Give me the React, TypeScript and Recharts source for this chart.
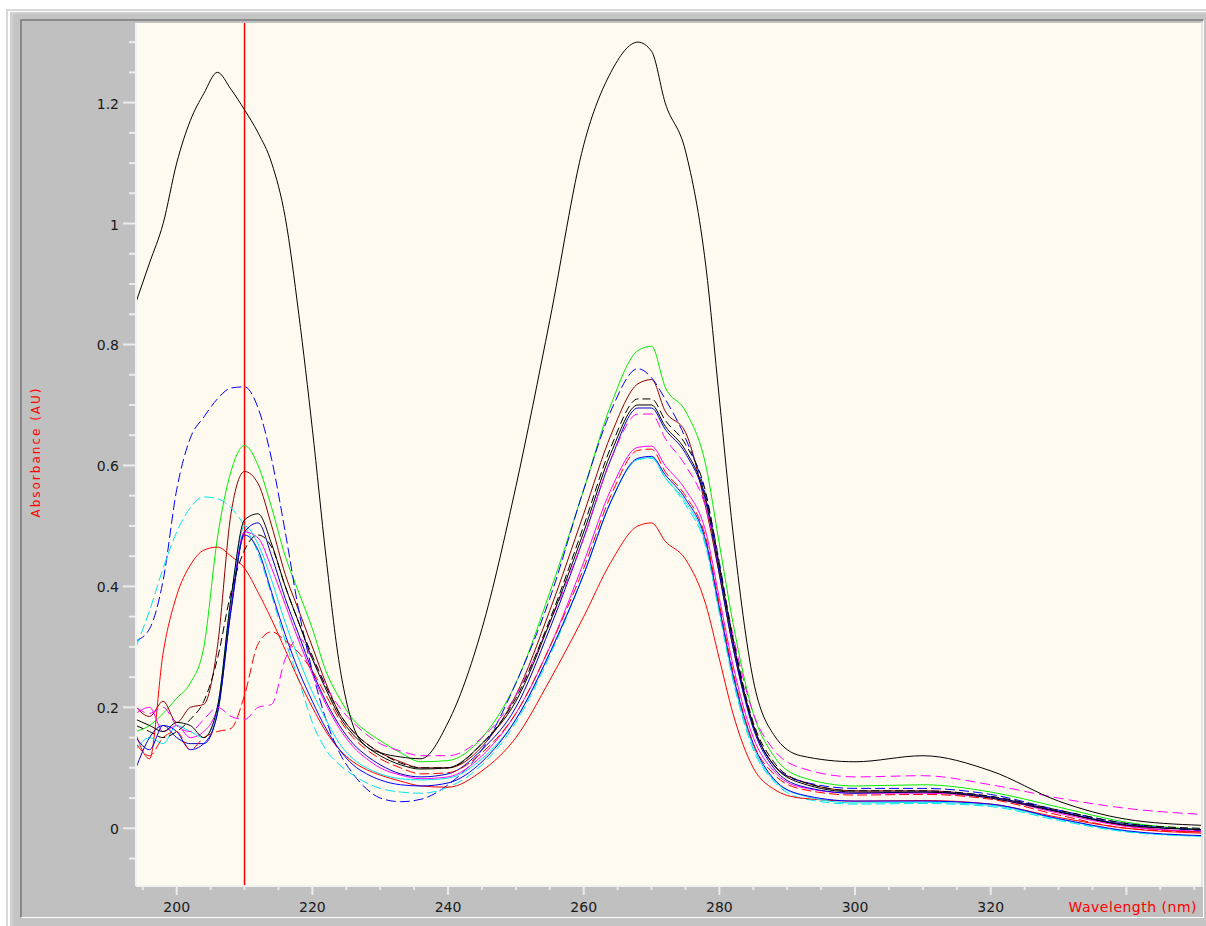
import React from 'react';
import { LineChart, Line, XAxis, YAxis, ReferenceLine } from 'recharts';

// wavelength grid (nm)
const wavelengths = [194, 196, 198, 200, 202, 204, 206, 208, 210, 212, 214, 216, 218, 220, 222, 224, 226, 228, 230, 233, 236, 240, 245, 250, 255, 260, 264, 268, 270, 272, 275, 278, 280, 282, 285, 288, 292, 300, 310, 320, 330, 340, 351];

// absorbance series (AU)
const blackHigh = [0.87, 0.935, 1.0, 1.1, 1.17, 1.215, 1.25, 1.222, 1.188, 1.15, 1.1, 1.01, 0.85, 0.66, 0.45, 0.27, 0.17, 0.135, 0.125, 0.118, 0.115, 0.175, 0.33, 0.565, 0.84, 1.13, 1.25, 1.3, 1.285, 1.2, 1.12, 0.93, 0.71, 0.49, 0.245, 0.155, 0.12, 0.11, 0.12, 0.095, 0.045, 0.015, 0.005];
const blueDashed = [0.31, 0.33, 0.41, 0.56, 0.645, 0.68, 0.71, 0.728, 0.73, 0.695, 0.61, 0.49, 0.36, 0.26, 0.18, 0.125, 0.09, 0.065, 0.05, 0.044, 0.048, 0.072, 0.13, 0.24, 0.38, 0.56, 0.69, 0.76, 0.745, 0.71, 0.645, 0.55, 0.44, 0.31, 0.17, 0.105, 0.078, 0.066, 0.066, 0.056, 0.03, 0.008, -0.004];
const cyanDashed = [0.3, 0.36, 0.43, 0.49, 0.53, 0.548, 0.545, 0.53, 0.5, 0.455, 0.385, 0.31, 0.245, 0.175, 0.13, 0.105, 0.088, 0.075, 0.066, 0.06, 0.058, 0.068, 0.105, 0.175, 0.285, 0.42, 0.54, 0.61, 0.612, 0.58, 0.535, 0.465, 0.355, 0.245, 0.13, 0.078, 0.05, 0.04, 0.041, 0.036, 0.013, -0.006, -0.013];
const redSolid = [0.155, 0.115, 0.29, 0.385, 0.435, 0.46, 0.465, 0.45, 0.43, 0.39, 0.345, 0.295, 0.245, 0.2, 0.16, 0.13, 0.11, 0.097, 0.088, 0.078, 0.07, 0.068, 0.095, 0.15, 0.245, 0.35, 0.44, 0.5, 0.505, 0.475, 0.445, 0.37, 0.28, 0.19, 0.1, 0.065, 0.05, 0.045, 0.046, 0.04, 0.018, 0.0, -0.008];
const greenSolid = [0.16, 0.17, 0.19, 0.215, 0.24, 0.3, 0.48, 0.59, 0.633, 0.6, 0.53, 0.45, 0.39, 0.33, 0.26, 0.215, 0.18, 0.16, 0.145, 0.125, 0.11, 0.112, 0.15, 0.24, 0.39, 0.56, 0.7, 0.79, 0.797, 0.73, 0.69, 0.6, 0.47, 0.34, 0.19, 0.12, 0.085, 0.07, 0.072, 0.06, 0.035, 0.01, -0.002];
const brownSolid = [0.2, 0.185, 0.21, 0.175, 0.2, 0.205, 0.3, 0.52, 0.59, 0.57, 0.5, 0.42, 0.36, 0.3, 0.24, 0.19, 0.16, 0.14, 0.125, 0.11, 0.1, 0.1, 0.135, 0.22, 0.36, 0.52, 0.65, 0.735, 0.742, 0.69, 0.655, 0.53, 0.42, 0.3, 0.17, 0.105, 0.078, 0.062, 0.062, 0.052, 0.028, 0.004, -0.006];
const blackSolid = [0.18, 0.17, 0.16, 0.175, 0.17, 0.15, 0.2, 0.38, 0.51, 0.52, 0.47, 0.4, 0.34, 0.28, 0.23, 0.185, 0.155, 0.135, 0.12, 0.105, 0.098, 0.1, 0.14, 0.21, 0.34, 0.49, 0.62, 0.7, 0.7, 0.665, 0.625, 0.545, 0.43, 0.31, 0.17, 0.105, 0.075, 0.06, 0.06, 0.05, 0.027, 0.005, -0.002];
const blackDashed = [0.17, 0.16, 0.15, 0.16, 0.18, 0.21, 0.28, 0.39, 0.46, 0.485, 0.465, 0.4, 0.34, 0.285, 0.235, 0.19, 0.16, 0.14, 0.125, 0.108, 0.1, 0.1, 0.14, 0.215, 0.345, 0.5, 0.63, 0.71, 0.71, 0.675, 0.635, 0.555, 0.435, 0.315, 0.175, 0.11, 0.078, 0.062, 0.062, 0.053, 0.03, 0.008, 0.0];
const blueSolid = [0.1, 0.15, 0.17, 0.15, 0.14, 0.14, 0.19, 0.36, 0.49, 0.505, 0.45, 0.38, 0.32, 0.26, 0.21, 0.17, 0.14, 0.12, 0.105, 0.09, 0.085, 0.09, 0.13, 0.2, 0.33, 0.48, 0.61, 0.695, 0.695, 0.66, 0.62, 0.54, 0.42, 0.3, 0.165, 0.1, 0.07, 0.058, 0.06, 0.052, 0.028, 0.006, -0.002];
const magentaSolid = [0.19, 0.2, 0.16, 0.17, 0.15, 0.16, 0.2, 0.37, 0.49, 0.48, 0.43, 0.37, 0.31, 0.255, 0.205, 0.165, 0.135, 0.115, 0.1, 0.088, 0.082, 0.085, 0.12, 0.19, 0.3, 0.44, 0.56, 0.63, 0.632, 0.6, 0.56, 0.49, 0.38, 0.27, 0.15, 0.095, 0.068, 0.058, 0.058, 0.05, 0.025, 0.003, -0.005];
const cyanSolid = [0.13, 0.15, 0.14, 0.17, 0.16, 0.15, 0.2, 0.38, 0.5, 0.47, 0.41, 0.34, 0.28, 0.225, 0.18, 0.14, 0.115, 0.1, 0.09, 0.082, 0.08, 0.083, 0.115, 0.18, 0.29, 0.42, 0.54, 0.61, 0.613, 0.58, 0.54, 0.47, 0.36, 0.25, 0.135, 0.08, 0.055, 0.042, 0.043, 0.038, 0.015, -0.005, -0.013];
const blueSolid2 = [0.15, 0.13, 0.17, 0.16, 0.13, 0.14, 0.19, 0.36, 0.485, 0.46, 0.39, 0.32, 0.26, 0.21, 0.165, 0.13, 0.105, 0.09, 0.08, 0.072, 0.07, 0.075, 0.11, 0.18, 0.29, 0.42, 0.54, 0.612, 0.615, 0.585, 0.545, 0.475, 0.365, 0.255, 0.14, 0.082, 0.056, 0.045, 0.045, 0.04, 0.016, -0.004, -0.012];
const redDashed = [0.14, 0.12, 0.15, 0.16, 0.13, 0.15, 0.16, 0.165, 0.22, 0.305, 0.325, 0.31, 0.29, 0.26, 0.22, 0.18, 0.15, 0.13, 0.115, 0.1, 0.09, 0.092, 0.125, 0.19, 0.3, 0.43, 0.55, 0.625, 0.627, 0.59, 0.55, 0.48, 0.37, 0.26, 0.14, 0.09, 0.065, 0.055, 0.056, 0.048, 0.022, 0.0, -0.006];
const magentaDashed = [0.2, 0.19, 0.2, 0.17, 0.16, 0.18, 0.2, 0.185, 0.18, 0.2, 0.205, 0.28, 0.315, 0.28, 0.235, 0.2, 0.175, 0.155, 0.14, 0.128, 0.12, 0.12, 0.15, 0.22, 0.34, 0.48, 0.61, 0.685, 0.685, 0.645, 0.6, 0.53, 0.43, 0.32, 0.19, 0.13, 0.1, 0.085, 0.087, 0.072, 0.05, 0.033, 0.023];

// tick values
const xTicks = [195, 200, 205, 210, 215, 220, 225, 230, 235, 240, 245, 250, 255, 260, 265, 270, 275, 280, 285, 290, 295, 300, 305, 310, 315, 320, 325, 330, 335, 340, 345, 350];
const xLabelTicks = [200, 220, 240, 260, 280, 300, 320];
const yTicks = [-0.05, 0, 0.05, 0.1, 0.15, 0.2, 0.25, 0.3, 0.35, 0.4, 0.45, 0.5, 0.55, 0.6, 0.65, 0.7, 0.75, 0.8, 0.85, 0.9, 0.95, 1, 1.05, 1.1, 1.15, 1.2, 1.25, 1.3];
const yLabelTicks = [0, 0.2, 0.4, 0.6, 0.8, 1, 1.2];
const cursorNm = 210;

const series = [
  { key: 'greenSolid', values: greenSolid, color: '#00ee00', dash: undefined },
  { key: 'brownSolid', values: brownSolid, color: '#8b0000', dash: undefined },
  { key: 'blueDashed', values: blueDashed, color: '#0000ff', dash: '10 4' },
  { key: 'cyanDashed', values: cyanDashed, color: '#00e5ee', dash: '10 4' },
  { key: 'redSolid', values: redSolid, color: '#ff0000', dash: undefined },
  { key: 'magentaSolid', values: magentaSolid, color: '#ff00ff', dash: undefined },
  { key: 'cyanSolid', values: cyanSolid, color: '#00e5ee', dash: undefined },
  { key: 'blueSolid2', values: blueSolid2, color: '#0000ff', dash: undefined },
  { key: 'blueSolid', values: blueSolid, color: '#0000cc', dash: undefined },
  { key: 'redDashed', values: redDashed, color: '#ff0000', dash: '10 4' },
  { key: 'magentaDashed', values: magentaDashed, color: '#ff00ff', dash: '10 5' },
  { key: 'blackDashed', values: blackDashed, color: '#000000', dash: '8 4' },
  { key: 'blackSolid', values: blackSolid, color: '#000000', dash: undefined },
  { key: 'blackHigh', values: blackHigh, color: '#000000', dash: undefined },
];

const rows = wavelengths.map((nm, i) => {
  const r: Record<string, number> = { nm };
  series.forEach((s) => {
    r[s.key] = s.values[i];
  });
  return r;
});

const FONT = '"DejaVu Sans", Verdana, sans-serif';
const TICK_COLOR = '#ececec';

const XTick = (props: any) => {
  const { x, y, payload } = props;
  const v = payload.value as number;
  const major = v % 20 === 0;
  const showLabel = xLabelTicks.includes(v);
  return (
    <g>
      <line x1={x} x2={x} y1={y} y2={y + (major ? 9 : 4)} stroke={TICK_COLOR} strokeWidth={2} />
      {showLabel && (
        <text x={x} y={y + 26} textAnchor="middle" fontSize={14} fontFamily={FONT} fill="#1a1a1a">
          {v}
        </text>
      )}
    </g>
  );
};

const YTick = (props: any) => {
  const { x, y, payload } = props;
  const v = payload.value as number;
  const label = yLabelTicks.find((t) => Math.abs(t - v) < 1e-6);
  const major = label !== undefined;
  return (
    <g>
      <line x1={x - (major ? 13 : 7)} x2={x - 1} y1={y} y2={y} stroke={TICK_COLOR} strokeWidth={2} />
      {major && (
        <text x={x - 17} y={y + 6} textAnchor="end" fontSize={14} fontFamily={FONT} fill="#1a1a1a">
          {String(label)}
        </text>
      )}
    </g>
  );
};

const abs = (s: React.CSSProperties): React.CSSProperties => ({ position: 'absolute', boxSizing: 'border-box', ...s });

export default function App() {
  return (
    <div style={abs({ left: 0, top: 0, width: 1206, height: 926, background: '#ffffff', overflow: 'hidden' })}>
      <div style={abs({ left: 6, top: 9, width: 1200, height: 917, background: '#d8d8d8' })} />
      <div style={abs({ left: 8, top: 11, width: 1198, height: 915, background: '#ffffff' })} />
      <div style={abs({ left: 10, top: 12, width: 1196, height: 914, background: '#d0d0d0' })} />
      <div style={abs({ left: 13, top: 14, width: 1193, height: 912, background: '#c4c4c4' })} />
      <div
        style={abs({
          left: 20,
          top: 19,
          width: 1184,
          height: 899,
          background: '#c0c0c0',
          borderLeft: '2px solid #8a8a8a',
          borderTop: '2px solid #8a8a8a',
          borderRight: '1px solid #ffffff',
          borderBottom: '1px solid #ffffff',
        })}
      />
      <div style={abs({ left: 136, top: 23, width: 1065, height: 863, background: '#fffaf0' })} />
      <div style={abs({ left: 1201, top: 22, width: 2, height: 865, background: '#e4e4e4' })} />
      <div style={abs({ left: 22, top: 21, width: 1181, height: 897 })}>
        <LineChart width={1181} height={897} data={rows} margin={{ top: 2, right: 2, bottom: 0, left: 0 }}>
          <XAxis
            dataKey="nm"
            type="number"
            domain={[194, 351]}
            ticks={xTicks}
            interval={0}
            allowDataOverflow
            height={32}
            tickLine={false}
            tickSize={0}
            tickMargin={0}
            axisLine={{ stroke: '#f2f2f2', strokeWidth: 2 }}
            tick={<XTick />}
          />
          <YAxis
            type="number"
            domain={[-0.0954, 1.3316]}
            ticks={yTicks}
            interval={0}
            allowDataOverflow
            width={114}
            tickLine={false}
            tickSize={0}
            tickMargin={0}
            axisLine={{ stroke: '#f2f2f2', strokeWidth: 2 }}
            tick={<YTick />}
          />
          <ReferenceLine x={cursorNm} stroke="#ff0000" strokeWidth={1.5} ifOverflow="extendDomain" />
          {series.map((s) => (
            <Line
              key={s.key}
              dataKey={s.key}
              type="monotone"
              stroke={s.color}
              strokeWidth={1}
              strokeDasharray={s.dash}
              dot={false}
              activeDot={false}
              isAnimationActive={false}
            />
          ))}
        </LineChart>
      </div>
      <svg style={abs({ left: 0, top: 0, width: 1206, height: 926, pointerEvents: 'none' })} width={1206} height={926}>
        <text
          transform="translate(40,452) rotate(-90)"
          textAnchor="middle"
          fontSize={12}
          fontFamily={FONT}
          fill="#ff0000"
          letterSpacing={2}
        >
          Absorbance (AU)
        </text>
        <text x={1197} y={912} textAnchor="end" fontSize={14} fontFamily={FONT} fill="#ff0000" letterSpacing={0.5}>
          Wavelength (nm)
        </text>
      </svg>
    </div>
  );
}
